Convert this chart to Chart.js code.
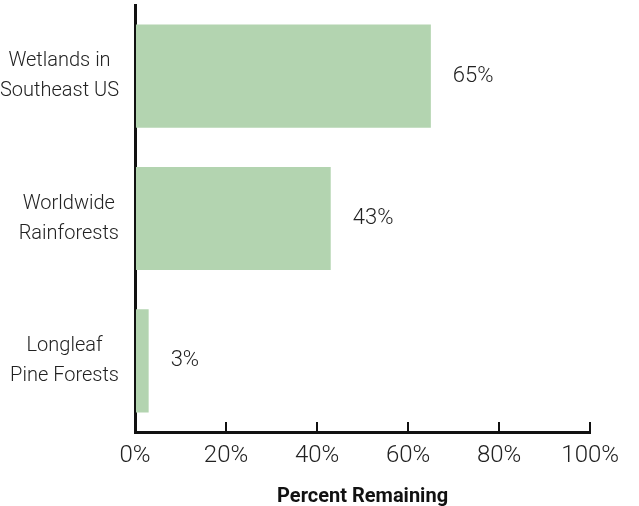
<!DOCTYPE html>
<html>
<head>
<meta charset="utf-8">
<script src="https://cdn.jsdelivr.net/npm/chart.js@4/dist/chart.umd.min.js"></script>
<style>
  html, body { margin: 0; padding: 0; background: #fff; }
  #wrap { width: 639px; height: 506px; }
</style>
</head>
<body>
<div id="wrap"><canvas id="chart1" width="639" height="506"></canvas></div>
<script>
// data
var categories = [
    ["Wetlands in", "Southeast US"],
    ["Worldwide", "Rainforests"],
    ["Longleaf", "Pine Forests"]
];
var percentRemaining = [65, 43, 3];
var xTicks = [0, 20, 40, 60, 80, 100];

var TEXT = '#222';
var FONT = 'Roboto, "Liberation Sans", sans-serif';

// value labels to the right of each bar
var valueLabels = {
    id: 'valueLabels',
    afterDatasetsDraw: function(chart) {
        var ctx  = chart.ctx;
        var bars = chart.getDatasetMeta(0).data;
        ctx.save();
        ctx.font = '300 22px ' + FONT;
        ctx.fillStyle = TEXT;
        ctx.textAlign = 'left';
        ctx.textBaseline = 'middle';
        bars.forEach(function(bar, i) {
            ctx.fillText(percentRemaining[i] + '%', bar.x + 22, bar.y);
        });
        ctx.restore();
    }
};

// category labels: block right aligned, lines centred
var categoryLabels = {
    id: 'categoryLabels',
    afterDraw: function(chart) {
        var ctx    = chart.ctx;
        var yScale = chart.scales.y;
        var right  = 119;
        var lh     = 30;
        ctx.save();
        ctx.font = '300 20px ' + FONT;
        ctx.fillStyle = TEXT;
        ctx.textAlign = 'center';
        ctx.textBaseline = 'middle';
        categories.forEach(function(lines, i) {
            var w = 0;
            lines.forEach(function(l) { w = Math.max(w, ctx.measureText(l).width); });
            var cx = right - w / 2;
            var cy = yScale.getPixelForValue(i);
            lines.forEach(function(l, j) {
                ctx.fillText(l, cx, cy + (j - (lines.length - 1) / 2) * lh);
            });
        });
        ctx.restore();
    }
};

new Chart(document.getElementById('chart1'), {
    type: 'bar',
    data: {
        labels: categories.map(function(c) { return c.join(' '); }),
        datasets: [{
            data: percentRemaining,
            backgroundColor: 'rgb(179,212,176)',
            borderWidth: 0,
            categoryPercentage: 1,
            barPercentage: 0.725
        }]
    },
    options: {
        indexAxis: 'y',
        responsive: false,
        animation: false,
        layout: { padding: { top: 5, right: 44, left: 0, bottom: 0 } },
        plugins: {
            legend: { display: false },
            tooltip: { enabled: false }
        },
        scales: {
            x: {
                min: 0,
                max: 100,
                afterFit: function(scale) { scale.height = 74; },
                afterBuildTicks: function(scale) {
                    scale.ticks = xTicks.map(function(v) { return { value: v }; });
                },
                grid: {
                    display: true,
                    drawOnChartArea: false,
                    drawTicks: true,
                    tickLength: -10,
                    color: '#111',
                    lineWidth: 2
                },
                border: { display: true, color: '#111', width: 3 },
                ticks: {
                    padding: 20,
                    color: TEXT,
                    font: { family: FONT, size: 24, weight: '300' },
                    maxRotation: 0,
                    callback: function(v) { return v + '%'; }
                },
                title: {
                    display: true,
                    text: 'Percent Remaining',
                    color: '#111',
                    font: { family: FONT, size: 20, weight: 'bold' },
                    padding: { top: 0, bottom: -3 }
                }
            },
            y: {
                afterFit: function(scale) { scale.width = 135; },
                grid: { display: false },
                border: { display: true, color: '#111', width: 3 },
                ticks: { display: false }
            }
        }
    },
    plugins: [valueLabels, categoryLabels]
});
</script>
</body>
</html>
